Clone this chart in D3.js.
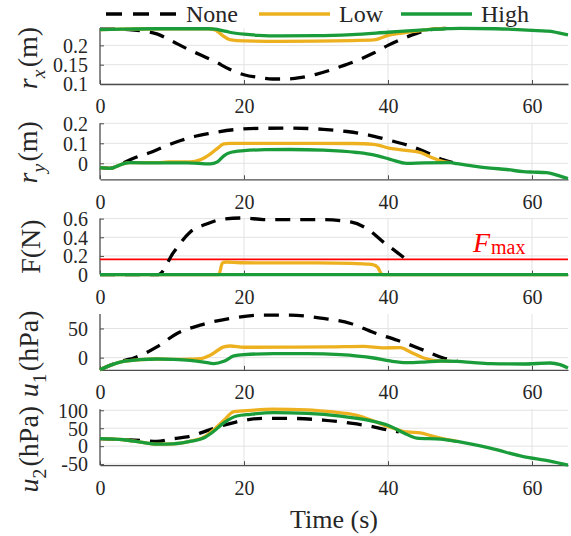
<!DOCTYPE html>
<html>
<head>
<meta charset="utf-8">
<script src="https://cdn.jsdelivr.net/npm/d3@7"></script>
<style>
	body { margin: 0; background: #fff; }
	text { font-family: "Liberation Serif", "Times New Roman", serif; fill: #262626; }
</style>
</head>
<body>
<svg id="chart" width="571" height="536"></svg>
<script>
//=================== DATA ==========================================
//each series is a list of [time (s), value]
var seriesNames = ["None", "Low", "High"];
var timeTicks = [0, 20, 40, 60];

//r_x (m)
var rxNone = [[0,0.242],[2,0.242],[4,0.241],[6,0.237],[8,0.229],[10,0.211],[12,0.192],[14,0.175],[16,0.158],[18,0.138],[20,0.124],[22,0.117],[24,0.113],[26,0.113],[28,0.117],[30,0.125],[32,0.136],[34,0.149],[36,0.163],[38,0.18],[40,0.2],[42,0.217],[44,0.231],[46,0.241],[48,0.244]];
var rxLow = [[0,0.241],[3,0.242],[8,0.243],[12,0.243],[15,0.243],[16,0.24],[17,0.226],[18,0.215],[20,0.2115],[25,0.2105],[30,0.211],[35,0.2125],[38,0.214],[39,0.219],[40,0.226],[42,0.232],[44,0.237],[46,0.242],[48,0.244]];
var rxHigh = [[0,0.241],[3,0.242],[8,0.243],[12,0.243],[15,0.243],[16,0.242],[17,0.238],[18,0.234],[20,0.229],[22,0.226],[25,0.2245],[30,0.225],[35,0.228],[40,0.234],[45,0.24],[48,0.243],[50,0.244],[55,0.243],[58,0.241],[60,0.239],[62,0.237],[63,0.235],[64,0.231],[65,0.227]];
var rxTicks = [0.1, 0.15, 0.2];

//r_y (m)
var ryNone = [[0,-0.022],[1.4,-0.025],[2.4,-0.014],[3.3,0.003],[5,0.03],[7,0.054],[9,0.085],[11.2,0.114],[13,0.133],[15,0.148],[18.6,0.168],[22.7,0.175],[26.4,0.176],[31,0.17],[34.3,0.159],[37,0.144],[40.3,0.114],[42.6,0.092],[45.4,0.054],[47.7,0.017],[49,0.003]];
var ryLow = [[0,-0.022],[1.4,-0.025],[2.4,-0.014],[3.3,-0.002],[4.2,0.003],[8,0.003],[9.5,0.007],[12.5,0.007],[13.9,0.017],[15.3,0.046],[16.5,0.08],[17.2,0.097],[18,0.1],[25,0.1],[30,0.1],[35,0.099],[38,0.095],[40.3,0.075],[42.5,0.065],[44.5,0.054],[45.9,0.032],[47.3,0.012],[48.7,0.003]];
var ryHigh = [[0,-0.022],[1.4,-0.025],[2.4,-0.014],[3.3,-0.002],[4.2,0.003],[8,0.002],[12,0.002],[15.3,-0.003],[16.3,0.007],[17.2,0.037],[18.1,0.054],[20,0.063],[23,0.068],[26.4,0.069],[31,0.066],[35.7,0.054],[38,0.042],[40.3,0.02],[42.6,0],[45,0.002],[48.7,0.003],[49.6,-0.002],[51.9,-0.014],[54.2,-0.024],[56.5,-0.031],[58.8,-0.042],[60.2,-0.044],[62,-0.047],[63.9,-0.064],[65,-0.076]];
var ryTicks = [0, 0.1, 0.2];

//F (N)
var fNone = [[0,0],[8.1,0],[10.2,0.236],[12.5,0.455],[14.9,0.545],[17.2,0.596],[20,0.607],[22.7,0.59],[26.4,0.589],[31,0.589],[34.8,0.564],[37.1,0.491],[39.4,0.345],[41.3,0.236],[43.1,0.127]];
var fLow = [[0,0],[16.5,0],[17,0.125],[17.5,0.135],[19.5,0.127],[25,0.126],[30,0.125],[35,0.12],[37,0.113],[38,0.105],[38.6,0.075],[39.2,0],[65,0]];
var fHigh = [[0,0],[65,0]];
var fTicks = [0, 0.2, 0.4, 0.6];
var fMax = 0.164;

//u_1 (hPa)
var u1None = [[0,-20.7],[1.4,-13.2],[3.3,-5],[4.7,-0.6],[7.9,18.4],[10.7,41.4],[13.9,55.7],[18.1,67.2],[22.7,73],[26.4,73],[31,67.2],[34.8,58.6],[38,43.1],[41.3,29.9],[45,12.6],[47.7,-0.6],[49.6,-4.6]];
var u1Low = [[0,-20.7],[1.4,-13.2],[2.8,-7.5],[5.6,-3.4],[7.9,-2.3],[10.2,-2.9],[12.5,-2.5],[14,-1.7],[15.3,4],[17.2,18.4],[18.1,20],[20,17.8],[26,18],[32,18.5],[36.6,19.5],[39.4,16.7],[41.7,17.2],[43.1,9.8],[45,-0.6],[46.3,-4.6],[48.7,-6.3]];
var u1High = [[0,-20.7],[1.4,-13.2],[2.8,-7.5],[5.6,-3.4],[7.9,-2.3],[10.2,-2.9],[12.5,-4.6],[14.4,-7.5],[15.8,-10.3],[17.2,-6.3],[18.6,2.9],[20,5.2],[24.1,6.9],[28.8,6.9],[33.4,5.2],[38,-0.6],[40.3,-5.7],[42.6,-8.6],[45,-7.5],[47.3,-5.7],[49.6,-6.3],[51.9,-8.6],[54.2,-10.3],[58.8,-10.9],[62.5,-9.2],[63.9,-12],[65,-17.8]];
var u1Ticks = [0, 50];

//u_2 (hPa)
var u2None = [[0,20.8],[3.3,17.9],[5.6,16],[7.9,13.2],[9.8,19.8],[12.5,27.4],[15.3,46.2],[17.2,58.5],[19,68],[22.7,77.4],[26.4,77.4],[31,72.6],[34.8,64],[37.5,55.7],[39.8,46.2],[41.5,40]];
var u2Low = [[0,20.8],[3.3,17.9],[5.6,11.3],[7.9,5.7],[10.2,6.6],[12.5,13.5],[14.4,25],[15.8,46],[17.2,72],[18.6,96],[21,100],[24,103],[28.8,101],[32,96],[35.7,86],[38,70],[40.3,52.8],[42.6,39.6],[44.5,36.8],[46.3,27.4],[47.3,22.6],[49.6,13.2]];
var u2High = [[0,20.8],[3.3,17.9],[5.6,11.3],[7.9,5.7],[10.2,6.6],[12.5,13.2],[14.4,22.6],[15.8,41.5],[17.2,65],[19,84],[20.9,88.7],[24.1,93.4],[28.8,91.5],[33.4,84],[36.6,74.5],[40.3,55.7],[42.2,36.8],[44,22.6],[47.3,19.8],[49.6,13.2],[54.2,-5.7],[58.8,-29],[62.5,-41.5],[65,-52.8]];
var u2Ticks = [-50, 0, 50, 100];

//=================== LAYOUT & STYLE ====================
var colours = {None: "#000000", Low: "#EDB120", High: "#1A9C3A"};
var lineWidth = 3.3;
var dashPattern = "15,10";
var plotLeft = 100, plotRight = 568;
var panelH = 56, firstTop = 28, panelStep = 95.3;

//label pieces: [text, kind] kind = "" | "i" (italic) | "sub" / "subi" (subscript)
//labelX = baseline of the rotated label, labelShift = offset from the panel centre
var panels = [
	{label: [["r","i"],["x","subi"],["(m)",""]], labelX: 37, labelShift: 2, domain: [0.1, 0.245], ticks: rxTicks, series: [rxNone, rxLow, rxHigh]},
	{label: [["r","i"],["y","subi"],["(m)",""]], labelX: 37, labelShift: 1, domain: [-0.08, 0.2], ticks: ryTicks, series: [ryNone, ryLow, ryHigh]},
	{label: [["F(N)",""]], labelX: 40, labelShift: 0, domain: [0, 0.6], ticks: fTicks, series: [fNone, fLow, fHigh]},
	{label: [["u","i"],["1","sub"],["(hPa)",""]], labelX: 38, labelShift: 12, domain: [-21, 75], ticks: u1Ticks, series: [u1None, u1Low, u1High]},
	{label: [["u","i"],["2","sub"],["(hPa)",""]], labelX: 38, labelShift: 12, domain: [-53, 103], ticks: u2Ticks, series: [u2None, u2Low, u2High]}
];

var svg = d3.select("#chart");

var xScale = d3.scaleLinear()
	.domain([0, 65])
	.range([plotLeft, plotRight]);

//write a label made of pieces (italic / subscript) into a text element
function richText(textSel, pieces, size){
	pieces.forEach(function(p){
		var t = textSel.append("tspan").text(p[0]);
		if (p[1].indexOf("i") >= 0) t.style("font-style", "italic");
		if (p[1].indexOf("sub") === 0){
			t.attr("dy", size*0.28).style("font-size", (size*0.7) + "px");
			textSel.append("tspan").attr("dy", -size*0.28).text("\u200a");
		}
	});
}

panels.forEach(function(p, i){
	var top = firstTop + i*panelStep;
	var bottom = top + panelH;

	var yScale = d3.scaleLinear()
		.domain(p.domain)
		.range([bottom, top]);

	var grp = svg.append("g").attr("class", "panel");

	//grid lines
	grp.selectAll("line.hgrid")
		.data(p.ticks)
		.enter().append("line")
		.attr("x1", plotLeft).attr("x2", plotRight)
		.attr("y1", function(d){ return yScale(d); })
		.attr("y2", function(d){ return yScale(d); })
		.style("stroke", "#e3e3e3").style("stroke-width", 1);
	grp.selectAll("line.vgrid")
		.data(timeTicks.slice(1))
		.enter().append("line")
		.attr("x1", function(d){ return xScale(d); })
		.attr("x2", function(d){ return xScale(d); })
		.attr("y1", top).attr("y2", bottom)
		.style("stroke", "#e3e3e3").style("stroke-width", 1);

	//axes: MATLAB style, inward ticks, left + bottom only
	var yAxis = d3.axisLeft(yScale)
		.tickValues(p.ticks)
		.tickSize(-4)
		.tickSizeOuter(0)
		.tickPadding(12)
		.tickFormat(function(d){ return String(d); });
	var xAxis = d3.axisBottom(xScale)
		.tickValues(timeTicks)
		.tickSize(-4)
		.tickPadding(15)
		.tickSizeOuter(0);

	var gy = grp.append("g")
		.attr("transform", "translate(" + plotLeft + ",0)")
		.call(yAxis);
	var gx = grp.append("g")
		.attr("transform", "translate(0," + bottom + ")")
		.call(xAxis);

	[gx, gy].forEach(function(g){
		g.select(".domain").style("stroke", "#4d4d4d").style("stroke-width", 1.3);
		g.selectAll(".tick line").style("stroke", "#4d4d4d");
		g.selectAll(".tick text")
			.style("font-size", "20px")
			.style("font-family", "Liberation Serif, serif")
			.style("fill", "#262626");
	});
	gy.select(".domain").attr("d", "M0," + top + "V" + bottom);
	gy.selectAll(".tick text").attr("dy", "0.34em");
	gx.selectAll(".tick text").attr("dy", "0.72em");

	//F_max reference line
	if (i === 2){
		grp.append("line")
			.attr("x1", plotLeft).attr("x2", plotRight)
			.attr("y1", yScale(fMax)).attr("y2", yScale(fMax))
			.style("stroke", "#ff0000").style("stroke-width", 1.8);
		var fl = grp.append("text")
			.attr("x", xScale(51.8))
			.attr("y", yScale(fMax) - 7)
			.style("font-size", "28px")
			.style("fill", "#ff0000");
		fl.append("tspan").text("F").style("font-style", "italic").style("fill", "#ff0000");
		fl.append("tspan").text("max").attr("dx", 1).attr("dy", 2).style("font-size", "20px").style("fill", "#ff0000");
	}

	//the three series
	var lineGen = d3.line()
		.x(function(d){ return xScale(d[0]); })
		.y(function(d){ return yScale(d[1]); })
		.curve(d3.curveMonotoneX);

	grp.selectAll("path.series")
		.data(p.series)
		.enter().append("path")
		.attr("class", "series")
		.attr("d", lineGen)
		.style("fill", "none")
		.style("stroke", function(d, k){ return colours[seriesNames[k]]; })
		.style("stroke-width", lineWidth)
		.style("stroke-dasharray", function(d, k){ return k === 0 ? dashPattern : null; });

	//y label
	var lab = svg.append("text")
		.attr("transform", "translate(" + p.labelX + "," + (top + panelH/2 + p.labelShift) + ") rotate(-90)")
		.attr("text-anchor", "middle")
		.style("font-size", "28px");
	richText(lab, p.label, 28);
});

//x label
svg.append("text")
	.attr("x", (plotLeft + plotRight)/2)
	.attr("y", 528)
	.attr("text-anchor", "middle")
	.style("font-size", "26px")
	.text("Time (s)");

//legend along the top
var legendX = [106, 259, 401];
var legend = svg.append("g").attr("class", "legend");
seriesNames.forEach(function(name, k){
	legend.append("line")
		.attr("x1", legendX[k]).attr("x2", legendX[k] + 71)
		.attr("y1", 14).attr("y2", 14)
		.style("stroke", colours[name])
		.style("stroke-width", lineWidth)
		.style("stroke-dasharray", k === 0 ? "16,11" : null);
	legend.append("text")
		.attr("x", legendX[k] + 80)
		.attr("y", 22)
		.style("font-size", "24px")
		.text(name);
});
</script>
</body>
</html>
